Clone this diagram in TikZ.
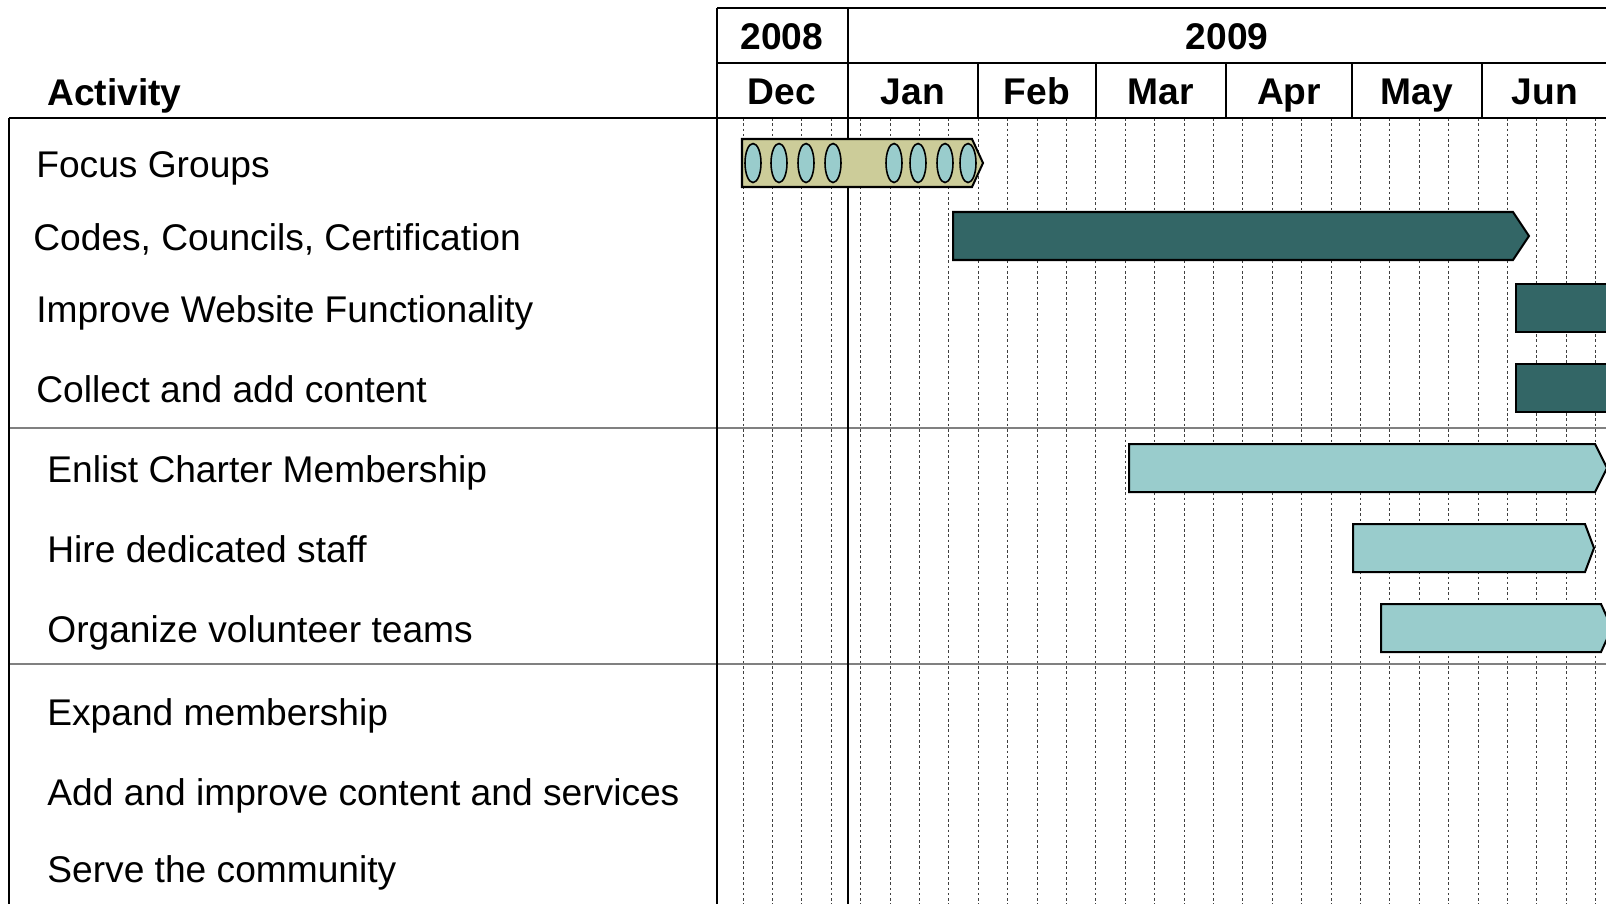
\documentclass[tikz,border=0pt]{standalone}
\usepackage{fontspec}
\setmainfont{Liberation Sans}
\definecolor{tanbar}{HTML}{CCCC99}
\definecolor{darkbar}{HTML}{336666}
\definecolor{lightbar}{HTML}{99CCCC}
\tikzset{
    lbl/.style={font=\fontsize{21.15}{25}\selectfont, anchor=base west, inner sep=0pt},
    hdr/.style={font=\fontsize{21.15}{25}\selectfont\bfseries, anchor=base, inner sep=0pt},
    frame/.style={line width=1.1pt},
    sect/.style={black!50, line width=0.9pt},
    week/.style={black!75, line width=0.45pt, dash pattern=on 1.5pt off 1.5pt},
    bar/.style={draw=black, line width=1.15pt}
}
\begin{document}
\begin{tikzpicture}[x=0.02cm, y=-0.02cm]
        \useasboundingbox (0,0) rectangle (1606,904);
        \clip (0,0) rectangle (1606,904);
        %Weeks
        \foreach \k in {0,...,29}
        {\draw[week] ({743+29.4*\k},118)--({743+29.4*\k},904);}
        %Sections
        \draw[sect] (9,428)--(1606,428);
        \draw[sect] (9,664)--(1606,664);
        %Frame
            \draw[frame] (717,8)--(1606,8);
            \draw[frame] (717,63)--(1606,63);
            \draw[frame] (9,118)--(1606,118);
            \draw[frame] (9,118)--(9,904);
            \draw[frame] (717,8)--(717,904);
            \draw[line width=0.8pt] (848,8)--(848,904);
        \foreach \x in{978,1096,1226,1352,1482}
        {\draw[frame] (\x,63)--(\x,118);}
        %Header
        \node[hdr] (y2008) at (782,49) {2008};
        \node[hdr] (y2009) at (1227,49) {2009};
        \node[hdr, anchor=base west] (activity) at (47,105) {Activity};
        \foreach \m/\x in{
        Dec/782, Jan/913, Feb/1037, Mar/1161, Apr/1289, May/1417, Jun/1545
        }{\node[hdr] (m\m) at (\x,104) {\m};}
        %Activities
        \foreach \n/\x/\y/\t in{
        focus/36/177/Focus Groups, codes/33/250/{Codes, Councils, Certification},
        website/36/322/Improve Website Functionality, content/36/402/Collect and add content,
        charter/47/482/Enlist Charter Membership, staff/47/562/Hire dedicated staff,
        teams/47/642/Organize volunteer teams, expand/47/725/Expand membership,
        services/47/805/Add and improve content and services, serve/47/882/Serve the community
        }{\node[lbl] (\n) at (\x,\y) {\t};}
        %Bars
        \filldraw[bar, fill=tanbar] (742,139)--(972,139)--(983,163)--(972,187)--(742,187)--cycle;
        \foreach \x in{753,779,806,833,894,918,945,968}
        {\filldraw[bar, fill=lightbar, line width=0.9pt] (\x,163) ellipse (0.16cm and 0.39cm);}
        \filldraw[bar, fill=darkbar] (953,212)--(1513,212)--(1529,236)--(1513,260)--(953,260)--cycle;
        \filldraw[bar, fill=darkbar] (1516,284) rectangle (1630,332);
        \filldraw[bar, fill=darkbar] (1516,364) rectangle (1630,412);
        \filldraw[bar, fill=lightbar] (1129,444)--(1595,444)--(1607,468)--(1595,492)--(1129,492)--cycle;
        \filldraw[bar, fill=lightbar] (1353,524)--(1585,524)--(1594,548)--(1585,572)--(1353,572)--cycle;
        \filldraw[bar, fill=lightbar] (1381,604)--(1601,604)--(1612,628)--(1601,652)--(1381,652)--cycle;
\end{tikzpicture}
\end{document}
